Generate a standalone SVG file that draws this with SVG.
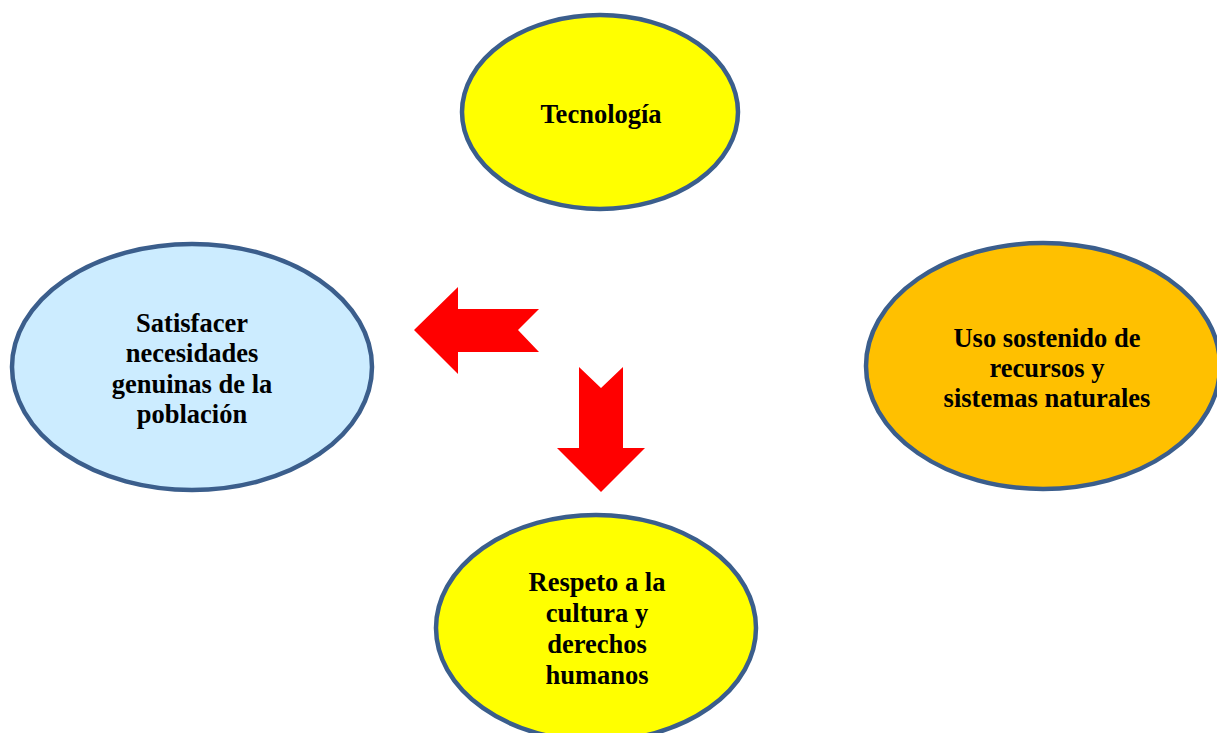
<svg xmlns="http://www.w3.org/2000/svg" width="1217" height="733" viewBox="0 0 1217 733">
<style>
.n{stroke:#3B5E8C;stroke-width:4.5}
.t{font-family:"Liberation Serif","Times New Roman",serif;font-weight:bold;font-size:26.5px;fill:#000;text-anchor:middle}
.a{fill:#FF0000}
</style>
<rect width="1217" height="733" fill="#fff"/>
<g id="tecnologia">
<ellipse class="n" cx="600" cy="112" rx="138" ry="97" fill="#FFFF00"/>
<text class="t" x="601" y="123">Tecnología</text>
</g>
<g id="satisfacer">
<ellipse class="n" cx="192" cy="367" rx="180" ry="123" fill="#CCECFF"/>
<text class="t" x="192" y="332">Satisfacer</text>
<text class="t" x="192" y="362">necesidades</text>
<text class="t" x="192" y="393">genuinas de la</text>
<text class="t" x="192" y="423">población</text>
</g>
<g id="uso">
<ellipse class="n" cx="1043" cy="366" rx="177" ry="123" fill="#FFC000"/>
<text class="t" x="1047" y="347">Uso sostenido de</text>
<text class="t" x="1047" y="377">recursos y</text>
<text class="t" x="1047" y="407">sistemas naturales</text>
</g>
<g id="respeto">
<ellipse class="n" cx="596" cy="628" rx="160" ry="113" fill="#FFFF00"/>
<text class="t" x="597" y="591">Respeto a la</text>
<text class="t" x="597" y="622">cultura y</text>
<text class="t" x="597" y="653">derechos</text>
<text class="t" x="597" y="684">humanos</text>
</g>
<g id="connectors">
<polygon class="a" points="414,330 458,287 458,309 539,309 518,330 539,352 458,352 458,374"/>
<polygon class="a" points="579,367 601,388 623,367 623,448 645,448 601,492 557,448 579,448"/>
</g>
</svg>
